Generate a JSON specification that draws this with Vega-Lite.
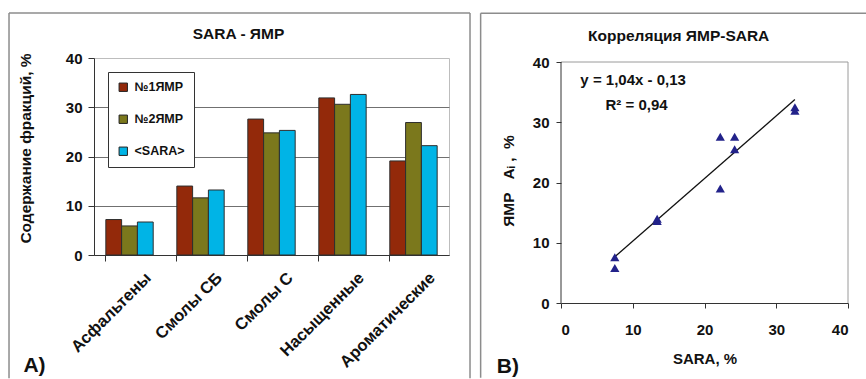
{
  "$schema": "https://vega.github.io/schema/vega-lite/v6.json",
  "padding": {"left": 7, "top": 11, "right": 0, "bottom": 0},
  "config": {
    "font": "Liberation Sans",
    "axis": {
      "labelFontWeight": "bold", "titleFontWeight": "bold",
      "labelColor": "#111", "titleColor": "#111",
      "labelFontSize": 15, "titleFontSize": 15,
      "domainColor": "#333", "tickColor": "#333"
    },
    "text": {"fontWeight": "bold", "color": "#111", "font": "Liberation Sans"}
  },
  "datasets": {
    "fractions": [
      {"fraction": "Асфальтены", "series": "№1ЯМР", "value": 7.2},
      {"fraction": "Асфальтены", "series": "№2ЯМР", "value": 5.9},
      {"fraction": "Асфальтены", "series": "<SARA>", "value": 6.7},
      {"fraction": "Смолы СБ", "series": "№1ЯМР", "value": 14.0},
      {"fraction": "Смолы СБ", "series": "№2ЯМР", "value": 11.6},
      {"fraction": "Смолы СБ", "series": "<SARA>", "value": 13.2},
      {"fraction": "Смолы С", "series": "№1ЯМР", "value": 27.6},
      {"fraction": "Смолы С", "series": "№2ЯМР", "value": 24.8},
      {"fraction": "Смолы С", "series": "<SARA>", "value": 25.3},
      {"fraction": "Насыщенные", "series": "№1ЯМР", "value": 31.9},
      {"fraction": "Насыщенные", "series": "№2ЯМР", "value": 30.6},
      {"fraction": "Насыщенные", "series": "<SARA>", "value": 32.6},
      {"fraction": "Ароматические", "series": "№1ЯМР", "value": 19.1},
      {"fraction": "Ароматические", "series": "№2ЯМР", "value": 26.9},
      {"fraction": "Ароматические", "series": "<SARA>", "value": 22.2}
    ],
    "pairs": [
      {"sara": 7.5, "nmr": 7.6},
      {"sara": 7.5, "nmr": 5.8},
      {"sara": 13.4, "nmr": 14.0},
      {"sara": 13.4, "nmr": 13.6},
      {"sara": 22.2, "nmr": 19.0},
      {"sara": 22.2, "nmr": 27.6},
      {"sara": 24.2, "nmr": 27.6},
      {"sara": 24.2, "nmr": 25.5},
      {"sara": 32.6, "nmr": 32.5},
      {"sara": 32.6, "nmr": 31.9}
    ],
    "fit": [
      {"sara": 7.5, "nmr": 7.67},
      {"sara": 32.6, "nmr": 33.77}
    ]
  },
  "columns": 2,
  "spacing": 7,
  "concat": [
    {
      "width": 355,
      "height": 197,
      "view": {"stroke": "#bdbdbd"},
      "resolve": {"scale": {"x": "independent"}},
      "layer": [
        {
          "data": {"name": "fractions"},
          "mark": {"type": "bar", "stroke": "#2e2e2e", "strokeWidth": 1},
          "encoding": {
            "x": {
              "field": "fraction", "type": "nominal",
              "sort": ["Асфальтены", "Смолы СБ", "Смолы С", "Насыщенные", "Ароматические"],
              "scale": {"paddingInner": 0.333, "paddingOuter": 0.1667},
              "axis": {
                "title": null, "labelAngle": -45, "labelAlign": "right", "labelBaseline": "middle",
                "labelOffset": 19, "labelPadding": 14, "tickSize": 6, "bandPosition": 0,
                "labelFontSize": 16.5
              }
            },
            "xOffset": {
              "field": "series", "type": "nominal",
              "sort": ["№1ЯМР", "№2ЯМР", "<SARA>"],
              "scale": {"paddingInner": 0, "paddingOuter": 0}
            },
            "y": {
              "field": "value", "type": "quantitative",
              "scale": {"domain": [0, 40], "nice": false},
              "axis": {
                "title": "Содержание фракций, %", "values": [0, 10, 20, 30, 40],
                "tickSize": 6, "labelPadding": 6, "titlePadding": 32, "titleFontSize": 15.5, "titleY": 90,
                "gridColor": {"condition": {"test": "datum.value >= 40", "value": "transparent"}, "value": "#707070"}
              }
            },
            "color": {
              "field": "series", "type": "nominal",
              "scale": {"domain": ["№1ЯМР", "№2ЯМР", "<SARA>"], "range": ["#93290a", "#7b781c", "#00b4e6"]},
              "legend": {
                "title": null, "orient": "top-left", "offset": 14,
                "strokeColor": "#333", "fillColor": "#ffffff", "padding": 9, "rowPadding": 19,
                "symbolType": "square", "symbolSize": 70, "symbolStrokeColor": "#222", "symbolStrokeWidth": 1,
                "labelFontSize": 12.5, "labelFontWeight": "bold", "labelColor": "#111", "labelOffset": 5
              }
            }
          }
        },
        {
          "data": {"values": [{}]},
          "layer": [
            {
              "mark": {"type": "rule", "color": "#8c8c8c", "strokeWidth": 1.5},
              "encoding": {
                "x": {"datum": -1.197, "type": "quantitative", "scale": {"domain": [0, 5], "nice": false, "zero": false}, "axis": null},
                "x2": {"datum": 5.296},
                "y": {"datum": 49.14, "type": "quantitative", "scale": {"domain": [0, 40], "nice": false}}
              }
            },
            {
              "mark": {"type": "rule", "color": "#8c8c8c", "strokeWidth": 1.5},
              "encoding": {
                "x": {"datum": -1.197, "type": "quantitative", "scale": {"domain": [0, 5], "nice": false, "zero": false}, "axis": null},
                "y": {"datum": -25.0, "type": "quantitative", "scale": {"domain": [0, 40], "nice": false}},
                "y2": {"datum": 49.14}
              }
            },
            {
              "mark": {"type": "rule", "color": "#8c8c8c", "strokeWidth": 1.5},
              "encoding": {
                "x": {"datum": 5.296, "type": "quantitative", "scale": {"domain": [0, 5], "nice": false, "zero": false}, "axis": null},
                "y": {"datum": -25.0, "type": "quantitative", "scale": {"domain": [0, 40], "nice": false}},
                "y2": {"datum": 49.14}
              }
            },
            {
              "mark": {"type": "text", "fontSize": 15.5, "align": "center", "baseline": "middle"},
              "encoding": {
                "x": {"datum": 2.035, "type": "quantitative", "scale": {"domain": [0, 5], "nice": false, "zero": false}, "axis": null},
                "y": {"datum": 44.87, "type": "quantitative", "scale": {"domain": [0, 40], "nice": false}},
                "text": {"value": "SARA - ЯМР"}
              }
            },
            {
              "mark": {"type": "text", "fontSize": 21, "align": "center", "baseline": "middle"},
              "encoding": {
                "x": {"datum": -0.838, "type": "quantitative", "scale": {"domain": [0, 5], "nice": false, "zero": false}, "axis": null},
                "y": {"datum": -22.5, "type": "quantitative", "scale": {"domain": [0, 40], "nice": false}},
                "text": {"value": "A)"}
              }
            }
          ]
        }
      ]
    },
    {
      "width": 287,
      "height": 245,
      "view": {"stroke": null},
      "layer": [
        {
          "data": {"values": [{}]},
          "layer": [
            {
              "mark": {"type": "rule", "color": "#8c8c8c", "strokeWidth": 1.5},
              "encoding": {
                "x": {"datum": -11.2, "type": "quantitative"},
                "x2": {"datum": 42.55},
                "y": {"datum": 48.1, "type": "quantitative"}
              }
            },
            {
              "mark": {"type": "rule", "color": "#8c8c8c", "strokeWidth": 1.5},
              "encoding": {
                "x": {"datum": -11.2, "type": "quantitative"},
                "y": {"datum": -12.4, "type": "quantitative"},
                "y2": {"datum": 48.1}
              }
            },
            {
              "mark": {"type": "rule", "color": "#9a9a9a", "strokeWidth": 1},
              "encoding": {
                "x": {"datum": 0, "type": "quantitative"},
                "x2": {"datum": 40},
                "y": {"datum": 40, "type": "quantitative"}
              }
            },
            {
              "mark": {"type": "rule", "color": "#9a9a9a", "strokeWidth": 1},
              "encoding": {
                "x": {"datum": 40, "type": "quantitative"},
                "y": {"datum": 0, "type": "quantitative"},
                "y2": {"datum": 40}
              }
            },
            {
              "mark": {"type": "rule", "color": "#333333", "strokeWidth": 1},
              "encoding": {
                "x": {"datum": 0, "type": "quantitative"},
                "y": {"datum": 0, "type": "quantitative"},
                "y2": {"datum": 40}
              }
            },
            {
              "mark": {"type": "text", "fontSize": 15.5, "align": "center", "baseline": "middle"},
              "encoding": {
                "x": {"datum": 16.4, "type": "quantitative"},
                "y": {"datum": 44.3, "type": "quantitative"},
                "text": {"value": "Корреляция ЯМР-SARA"}
              }
            },
            {
              "mark": {"type": "text", "fontSize": 15, "align": "left", "baseline": "middle"},
              "encoding": {
                "x": {"datum": 2.7, "type": "quantitative"},
                "y": {"datum": 37.0, "type": "quantitative"},
                "text": {"value": "y = 1,04x - 0,13"}
              }
            },
            {
              "mark": {"type": "text", "fontSize": 15, "align": "left", "baseline": "middle"},
              "encoding": {
                "x": {"datum": 6.2, "type": "quantitative"},
                "y": {"datum": 32.9, "type": "quantitative"},
                "text": {"value": "R² = 0,94"}
              }
            },
            {
              "mark": {"type": "text", "fontSize": 21, "align": "center", "baseline": "middle"},
              "encoding": {
                "x": {"datum": -7.4, "type": "quantitative"},
                "y": {"datum": -10.6, "type": "quantitative"},
                "text": {"value": "B)"}
              }
            }
          ]
        },
        {
          "data": {"name": "fit"},
          "mark": {"type": "line", "color": "#111", "strokeWidth": 1.3},
          "encoding": {
            "x": {"field": "sara", "type": "quantitative"},
            "y": {"field": "nmr", "type": "quantitative"}
          }
        },
        {
          "data": {"name": "pairs"},
          "mark": {"type": "point", "shape": "triangle-up", "filled": true, "size": 85, "color": "#22228a", "opacity": 1},
          "encoding": {
            "x": {
              "field": "sara", "type": "quantitative",
              "scale": {"domain": [0, 40], "nice": false},
              "axis": {"title": "SARA, %", "values": [0, 10, 20, 30, 40], "tickSize": 5, "labelPadding": 14, "grid": false, "titlePadding": 14}
            },
            "y": {
              "field": "nmr", "type": "quantitative",
              "scale": {"domain": [0, 40.664], "nice": false},
              "axis": {
                "title": "ЯМР\u00a0\u00a0\u00a0A\u1d62\u00a0,\u00a0\u00a0%", "titleFontSize": 15.5, "values": [0, 10, 20, 30, 40], "tickSize": 5, "labelPadding": 7, "titlePadding": 16,
                "domain": false,
                "gridColor": {"condition": {"test": "datum.value >= 40", "value": "transparent"}, "value": "#333333"}
              }
            }
          }
        }
      ]
    }
  ]
}
